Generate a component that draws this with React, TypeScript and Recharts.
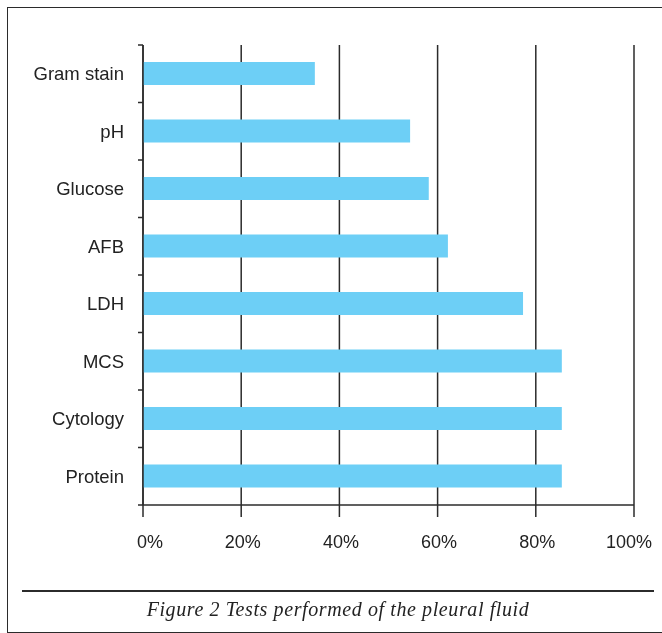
import { BarChart, Bar, XAxis, YAxis, CartesianGrid } from 'recharts';

const categories = ['Gram stain', 'pH', 'Glucose', 'AFB', 'LDH', 'MCS', 'Cytology', 'Protein'];
const percentages = [35.0, 54.4, 58.2, 62.1, 77.4, 85.3, 85.3, 85.3];
const xTicks = [0, 20, 40, 60, 80, 100];

const data = categories.map((name, i) => ({ name, value: percentages[i] }));

const CHART_W = 662;
const CHART_H = 560;
const MARGIN = { top: 45, right: 28, bottom: 0, left: 8 };
const Y_AXIS_W = 135;
const X_AXIS_H = 55;
const TICK_SIZE = 5;
const TICK_MARGIN = 14;
const BAND = (CHART_H - MARGIN.top - MARGIN.bottom - X_AXIS_H) / categories.length;

const INK = '#2b2b2b';
const FONT = '"Liberation Sans", Arial, Helvetica, sans-serif';

// category labels plus tick marks on the band edges (not the centres)
const CategoryTick = (props: any) => {
  const { x, y, payload, index } = props;
  const axisX = x + TICK_SIZE + TICK_MARGIN;
  const half = BAND / 2;
  return (
    <g>
      <line x1={axisX - TICK_SIZE} x2={axisX} y1={y - half} y2={y - half} stroke={INK} strokeWidth={1.5} />
      {index === categories.length - 1 && (
        <line x1={axisX - TICK_SIZE} x2={axisX} y1={y + half} y2={y + half} stroke={INK} strokeWidth={1.5} />
      )}
      <text x={x} y={y} dy="0.36em" textAnchor="end" fill="#222" fontSize={18.5} fontFamily={FONT}>
        {payload.value}
      </text>
    </g>
  );
};

// the end labels sit a little inside the axis ends in the original
const PercentTick = (props: any) => {
  const { x, y, payload, index } = props;
  const shift = index === 0 ? 7 : index === xTicks.length - 1 ? -5 : 1.5;
  return (
    <text x={x + shift} y={y} dy="0.71em" textAnchor="middle" fill="#222" fontSize={18} fontFamily={FONT}>
      {`${payload.value}%`}
    </text>
  );
};

export default function App() {
  return (
    <div>
      <div
        style={{
          position: 'fixed',
          left: 7,
          top: 7,
          width: 700,
          height: 626,
          boxSizing: 'border-box',
          border: `1.5px solid ${INK}`,
        }}
      />
      <div style={{ position: 'fixed', left: 0, top: 0 }}>
        <BarChart
          width={CHART_W}
          height={CHART_H}
          data={data}
          layout="vertical"
          margin={MARGIN}
          barSize={23}
        >
          <CartesianGrid horizontal={false} vertical stroke={INK} strokeWidth={1.5} />
          <XAxis
            type="number"
            domain={[0, 100]}
            ticks={xTicks}
            interval={0}
            height={X_AXIS_H}
            tickSize={12}
            tickMargin={18}
            axisLine={{ stroke: INK, strokeWidth: 1.5 }}
            tickLine={{ stroke: INK, strokeWidth: 1.5 }}
            tick={<PercentTick />}
          />
          <YAxis
            type="category"
            dataKey="name"
            width={Y_AXIS_W}
            interval={0}
            tickSize={TICK_SIZE}
            tickMargin={TICK_MARGIN}
            tickLine={false}
            axisLine={{ stroke: INK, strokeWidth: 1.5 }}
            tick={<CategoryTick />}
          />
          <Bar dataKey="value" fill="#6dcff6" isAnimationActive={false} />
        </BarChart>
      </div>
      <div
        style={{
          position: 'fixed',
          left: 22,
          top: 590,
          width: 632,
          height: 2,
          background: INK,
        }}
      />
      <div
        style={{
          position: 'fixed',
          left: 22,
          width: 632,
          top: 598,
          textAlign: 'center',
          fontFamily: '"Liberation Serif", "Times New Roman", serif',
          fontStyle: 'italic',
          fontSize: 20,
          letterSpacing: 0.6,
          color: '#222',
        }}
      >
        Figure 2 Tests performed of the pleural fluid
      </div>
    </div>
  );
}
